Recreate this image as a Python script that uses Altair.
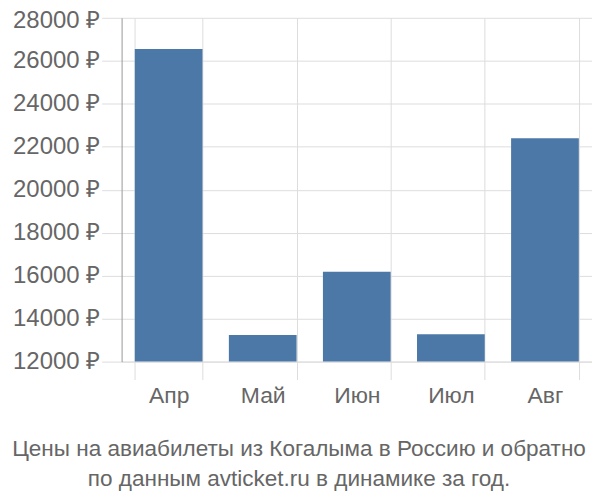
import altair as alt
import pandas as pd

months = ["Апр", "Май", "Июн", "Июл", "Авг"]
prices = [26550, 13240, 16180, 13270, 22390]
y_ticks = [12000, 14000, 16000, 18000, 20000, 22000, 24000, 26000, 28000]
title_lines = ["Цены на авиабилеты из Когалыма в Россию и обратно",
               "по данным avticket.ru в динамике за год."]

df = pd.DataFrame({"month": months, "price": prices})

FONT = "Liberation Sans"
GRAY = "#666666"

chart = alt.Chart(df).mark_bar(color="#4c78a8").encode(
    x=alt.X("month:N", sort=months, title=None,
            scale=alt.Scale(paddingInner=0.28, paddingOuter=0.14),
            axis=alt.Axis(labelAngle=0, tickBand="extent", grid=True,
                          gridColor="#dddddd", tickColor="#dddddd",
                          domainColor="#dddddd", tickSize=18,
                          labelPadding=5, labelFontSize=23,
                          labelColor=GRAY, labelFont=FONT)),
    y=alt.Y("price:Q", title=None,
            scale=alt.Scale(domain=[12000, 28000], zero=False, nice=False),
            axis=alt.Axis(values=y_ticks, labelExpr="datum.value + ' ₽'",
                          labelOffset={"condition": {"test": "datum.value == 28000", "value": 3},
                                       "value": 0},
                          grid=True, gridColor="#dddddd", tickColor="#dddddd",
                          domainColor="#999999", tickSize=20, labelPadding=2,
                          labelFontSize=24, labelColor=GRAY, labelFont=FONT)),
    y2=alt.datum(12000),
).properties(
    width=472,
    height=345,
    title=alt.TitleParams(text=title_lines, orient="bottom", anchor="middle",
                          fontSize=22.6, font=FONT, color=GRAY, fontWeight="normal",
                          lineHeight=30, offset=31, dx=-58),
    autosize=alt.AutoSizeParams(type="none"),
    padding={"left": 114, "top": 9, "right": 0, "bottom": 130},
).configure_view(stroke=None)

chart.save("out.html", embed_options={"renderer": "svg", "actions": False})
